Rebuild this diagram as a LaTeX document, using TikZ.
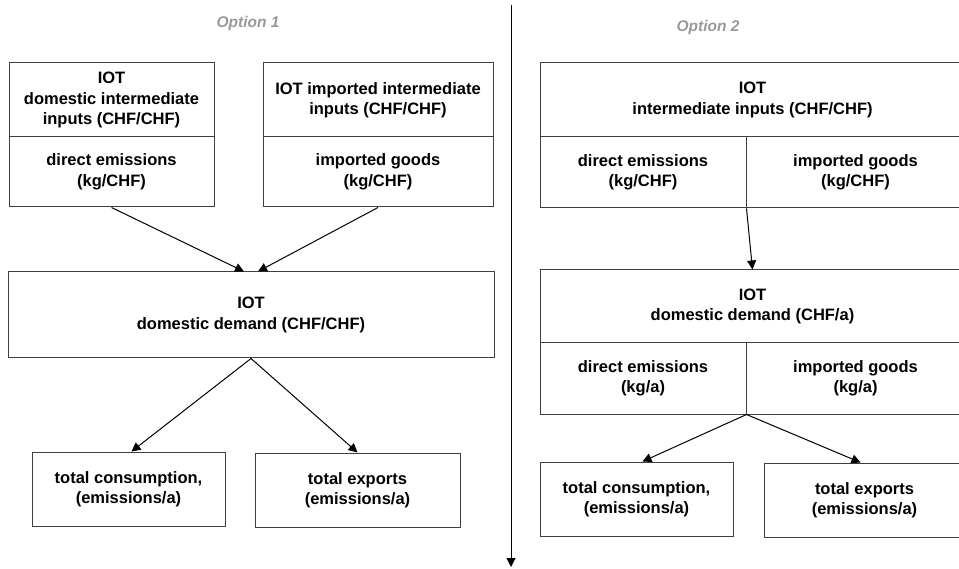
\documentclass[tikz,border=0pt]{standalone}
\usepackage{fontspec}
\setmainfont{Liberation Sans}
\usetikzlibrary{arrows.meta}
\begin{document}
\begin{tikzpicture}[x=1pt,y=-1pt,
  box/.style={draw=black!75,line width=1pt,rectangle,inner sep=0pt,align=center,
    font=\fontsize{16.5}{20.5}\selectfont\bfseries},
  opt/.style={text=black!40,font=\fontsize{15.5}{18}\selectfont\bfseries\itshape},
  conn/.style={draw=black,line width=1pt,-{Triangle[length=9pt,width=9pt]}}]
\useasboundingbox (0,0) rectangle (959,569);
% Option labels
\node[opt] (o1) at (248,23) {Option 1};
\node[opt] (o2) at (708,27) {Option 2};
% divider
\coordinate (vtop) at (511,5);
\coordinate (vbot) at (511,567);
\draw[conn] (vtop) -- (vbot);
% Left column
\node[box,minimum width=205pt,minimum height=74pt] (A1) at (111.5,100) {IOT\\domestic intermediate\\inputs (CHF/CHF)};
\node[box,minimum width=205pt,minimum height=70pt] (A2) at (111.5,172) {direct emissions\\(kg/CHF)};
\node[box,minimum width=230pt,minimum height=74pt] (B1) at (378,100) {IOT imported intermediate\\inputs (CHF/CHF)};
\node[box,minimum width=230pt,minimum height=70pt] (B2) at (378,172) {imported goods\\(kg/CHF)};
\node[box,minimum width=486pt,minimum height=86pt] (D) at (251,315) {IOT\\domestic demand (CHF/CHF)};
\node[box,minimum width=193pt,minimum height=74pt] (C1) at (128.5,489) {total consumption,\\(emissions/a)};
\node[box,minimum width=205pt,minimum height=74pt] (E1) at (357.5,490) {total exports\\(emissions/a)};
\draw[conn] (A2.south) -- ([xshift=-7pt]D.north);
\draw[conn] (B2.south) -- ([xshift=7pt]D.north);
\draw[conn] (D.south) -- ([xshift=3pt]C1.north);
\draw[conn] (D.south) -- (E1.north);
% Right column
\node[box,minimum width=425pt,minimum height=74pt] (F1) at (752.5,100) {IOT\\intermediate inputs (CHF/CHF)};
\node[box,minimum width=206pt,minimum height=71pt] (F2) at (643,172.5) {direct emissions\\(kg/CHF)};
\node[box,minimum width=219pt,minimum height=71pt] (F3) at (855.5,172.5) {imported goods\\(kg/CHF)};
\node[box,minimum width=425pt,minimum height=73pt] (G1) at (752.5,306.5) {IOT\\domestic demand (CHF/a)};
\node[box,minimum width=206pt,minimum height=71pt] (G2) at (643,378.5) {direct emissions\\(kg/a)};
\node[box,minimum width=219pt,minimum height=71pt] (G3) at (855.5,378.5) {imported goods\\(kg/a)};
\node[box,minimum width=193pt,minimum height=74pt] (H1) at (636.5,499) {total consumption,\\(emissions/a)};
\node[box,minimum width=201pt,minimum height=74pt] (H2) at (864.5,500) {total exports\\(emissions/a)};
\draw[conn] (F2.south east) -- (G1.north);
\draw[conn] (G2.south east) -- ([xshift=6pt]H1.north);
\draw[conn] (G2.south east) -- ([xshift=-4pt]H2.north);
\end{tikzpicture}
\end{document}
